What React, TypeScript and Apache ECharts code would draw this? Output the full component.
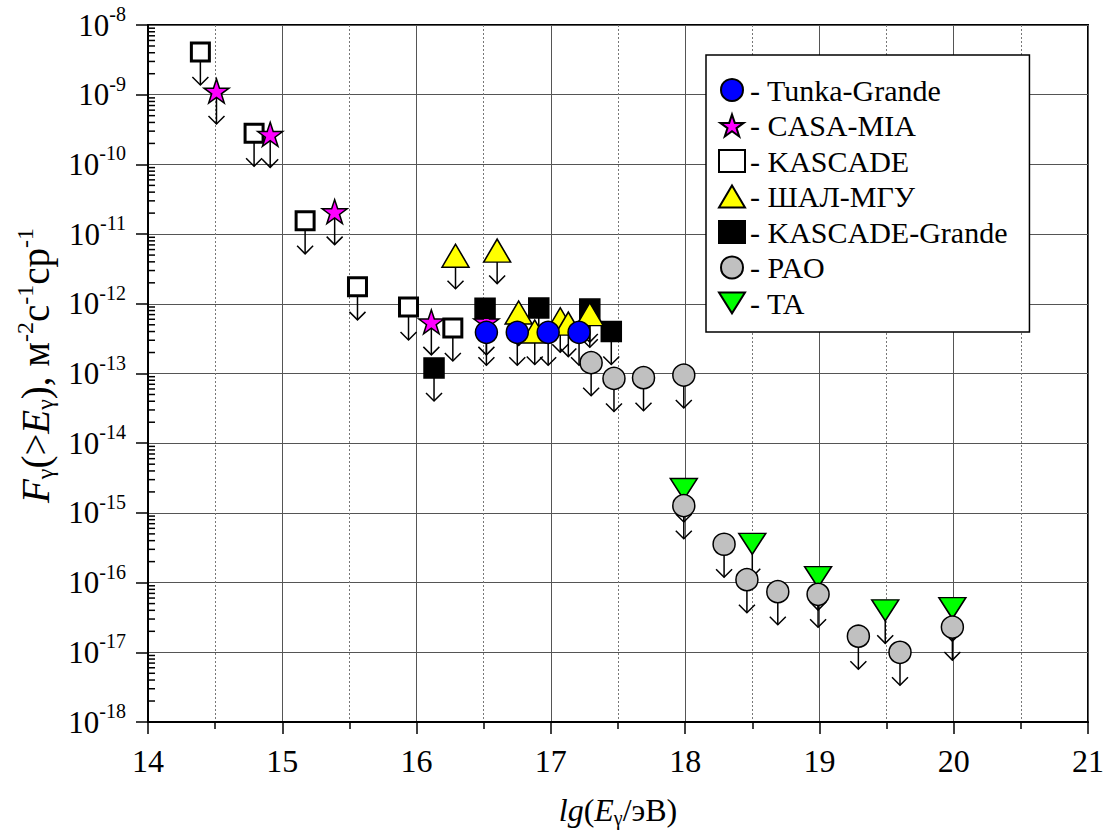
import React, { useEffect, useRef } from 'react';
import * as echarts from 'echarts';

// ---- Data (lg E, flux upper limit in m^-2 s^-1 sr^-1) ----
const tunkaX = [16.52, 16.75, 16.98, 17.21];
const tunkaY = [3.9e-13, 3.9e-13, 3.9e-13, 3.9e-13];

const casaX = [14.51, 14.91, 15.39, 16.11, 16.52];
const casaY = [1.13e-9, 2.7e-10, 2.1e-11, 5.5e-13, 5.5e-13];

const kascadeX = [14.39, 14.79, 15.17, 15.56, 15.94, 16.27];
const kascadeY = [4.1e-9, 2.8e-10, 1.55e-11, 1.75e-12, 9.0e-13, 4.5e-13];

const shalX = [16.29, 16.6, 16.76, 16.88, 17.07, 17.13, 17.29];
const shalY = [4.9e-12, 5.8e-12, 7.5e-13, 4.0e-13, 6.0e-13, 5.2e-13, 7.1e-13];

const kgX = [16.13, 16.51, 16.91, 17.29, 17.45];
const kgY = [1.2e-13, 8.6e-13, 8.7e-13, 8.4e-13, 4.0e-13];

const paoX = [17.3, 17.47, 17.69, 17.99, 17.99, 18.29, 18.46, 18.69, 18.99, 19.29, 19.6, 19.99];
const paoY = [1.43e-13, 8.5e-14, 8.7e-14, 9.5e-14, 1.27e-15, 3.55e-16, 1.1e-16, 7.4e-17, 6.8e-17, 1.7e-17, 1.0e-17, 2.3e-17];

const taX = [17.99, 18.5, 18.99, 19.49, 19.99];
const taY = [2.2e-15, 3.6e-16, 1.2e-16, 4.0e-17, 4.3e-17];

const xTicks = [14, 15, 16, 17, 18, 19, 20, 21];
const yDecades = [-18, -17, -16, -15, -14, -13, -12, -11, -10, -9, -8];
const legendNames = ['Tunka-Grande', 'CASA-MIA', 'KASCADE', 'ШАЛ-МГУ', 'KASCADE-Grande', 'PAO', 'TA'];

const FONT = '"Liberation Serif", serif';

const STAR = 'path://M50,0 L61.8,35.4 L99,35.4 L69,57.3 L80.4,92.7 L50,70.8 L19.6,92.7 L31,57.3 L1,35.4 L38.2,35.4 Z';
const TRI_DOWN = 'path://M0,0 L30,0 L15,24 Z';

function pts(xs: number[], ys: number[]) {
  return xs.map((x, i) => [x, Math.log10(ys[i])]);
}

export default function App() {
  const ref = useRef<HTMLDivElement>(null);
  useEffect(() => {
    const chart = echarts.init(ref.current as HTMLDivElement, null, { renderer: 'svg' });

    const groups: [number[], number[]][] = [
      [kascadeX, kascadeY], [casaX, casaY], [kgX, kgY], [shalX, shalY],
      [tunkaX, tunkaY], [taX, taY], [paoX, paoY],
    ];
    const allPts: number[][] = [];
    groups.forEach(([xs, ys]) => pts(xs, ys).forEach((p) => allPts.push(p)));

    // log minor tick positions (2..9 within each decade), placed on the left axis
    const minorTicks: number[][] = [];
    for (let i = 0; i < yDecades.length - 1; i++) {
      for (let k = 2; k <= 9; k++) minorTicks.push([xTicks[0], yDecades[i] + Math.log10(k)]);
    }

    const common = { borderColor: '#000', borderWidth: 1.5, opacity: 1 };

    const option: any = {
      animation: false,
      backgroundColor: '#fff',
      textStyle: { fontFamily: FONT },
      grid: { left: 148, right: 16, top: 25, bottom: 113, show: true, borderColor: '#000', borderWidth: 2 },
      legend: {
        orient: 'vertical', left: 706, top: 55,
        data: legendNames,
        formatter: (n: string) => '{t|- ' + n + '}',
        itemWidth: 26, itemHeight: 22, itemGap: 5.5,
        padding: [20, 22, 14, 12],
        backgroundColor: '#fff', borderColor: '#000', borderWidth: 1.5,
        textStyle: {
          fontFamily: FONT, fontSize: 30, color: '#000', lineHeight: 29,
          rich: { t: { fontFamily: FONT, fontSize: 30, color: '#000', lineHeight: 29 } },
        },
        selectedMode: false,
      },
      xAxis: {
        type: 'value', min: xTicks[0], max: xTicks[xTicks.length - 1], interval: 1,
        name: '{i|lg}{n|(}{i|E}{sub|γ}{n|/эВ)}',
        nameLocation: 'middle', nameGap: 70,
        nameTextStyle: {
          rich: {
            i: { fontFamily: FONT, fontStyle: 'italic', fontSize: 32, color: '#000', lineHeight: 36 },
            n: { fontFamily: FONT, fontSize: 32, color: '#000', lineHeight: 36 },
            sub: { fontFamily: FONT, fontSize: 20, color: '#000', lineHeight: 20, verticalAlign: 'bottom' },
          },
        },
        axisLine: { show: true, lineStyle: { color: '#000', width: 2 } },
        axisTick: { show: true, length: 12, lineStyle: { color: '#000', width: 1.5 } },
        minorTick: { show: true, splitNumber: 2, length: 7, lineStyle: { color: '#000', width: 1.5 } },
        splitLine: { show: true, lineStyle: { color: '#555', width: 1 } },
        minorSplitLine: { show: true, lineStyle: { color: '#777', width: 1, type: [2, 2] } },
        axisLabel: {
          margin: 22,
          formatter: (v: number) => '{a|' + v + '}',
          rich: { a: { fontFamily: FONT, fontSize: 32, color: '#000', lineHeight: 34 } },
        },
      },
      yAxis: {
        type: 'value', min: yDecades[0], max: yDecades[yDecades.length - 1], interval: 1,
        name: '{i|F}{sub|γ}{n|(>}{i|E}{sub|γ}{n|), м}{sup|-2}{n|с}{sup|-1}{n|ср}{sup|-1}',
        nameLocation: 'middle', nameRotate: 90, nameGap: 90,
        nameTextStyle: {
          padding: [0, 0, 0, 16],
          rich: {
            i: { fontFamily: FONT, fontStyle: 'italic', fontSize: 39, color: '#000', lineHeight: 44 },
            n: { fontFamily: FONT, fontSize: 39, color: '#000', lineHeight: 44 },
            sub: { fontFamily: FONT, fontSize: 24, color: '#000', lineHeight: 24, verticalAlign: 'bottom' },
            sup: { fontFamily: FONT, fontSize: 24, color: '#000', lineHeight: 24, verticalAlign: 'top' },
          },
        },
        axisLine: { show: true, lineStyle: { color: '#000', width: 2 } },
        axisTick: { show: true, length: 12, lineStyle: { color: '#000', width: 1.5 } },
        splitLine: { show: true, lineStyle: { color: '#555', width: 1 } },
        axisLabel: {
          margin: 22,
          formatter: (v: number) => '{b|10}{s|' + Math.round(v) + '}',
          rich: {
            b: { fontFamily: FONT, fontSize: 31, color: '#000', lineHeight: 42 },
            s: { fontFamily: FONT, fontSize: 20, color: '#000', lineHeight: 20, verticalAlign: 'top' },
          },
        },
      },
      series: [
        {
          type: 'custom', name: 'minorTicks', silent: true, z: 5, clip: false,
          data: minorTicks,
          encode: { x: 0, y: 1 },
          renderItem: (_params: any, api: any) => {
            const p = api.coord([api.value(0), api.value(1)]);
            return { type: 'line', shape: { x1: p[0], y1: p[1], x2: p[0] + 7, y2: p[1] }, style: { stroke: '#000', lineWidth: 1.5 } };
          },
        },
        {
          type: 'custom', name: 'arrows', silent: true, z: 1,
          data: allPts,
          encode: { x: 0, y: 1 },
          renderItem: (_params: any, api: any) => {
            const p = api.coord([api.value(0), api.value(1)]);
            const L = 33, hw = 8, hh = 8;
            return {
              type: 'group',
              children: [
                { type: 'line', shape: { x1: p[0], y1: p[1], x2: p[0], y2: p[1] + L }, style: { stroke: '#000', lineWidth: 1.5 } },
                {
                  type: 'polyline',
                  shape: { points: [[p[0] - hw, p[1] + L - hh], [p[0], p[1] + L], [p[0] + hw, p[1] + L - hh]] },
                  style: { stroke: '#000', lineWidth: 1.5, fill: null },
                },
              ],
            };
          },
        },
        { type: 'scatter', name: 'KASCADE', data: pts(kascadeX, kascadeY), symbol: 'rect', symbolSize: 18, itemStyle: { color: '#fff', ...common, borderWidth: 3 } },
        { type: 'scatter', name: 'CASA-MIA', data: pts(casaX, casaY), symbol: STAR, symbolSize: [25, 24], itemStyle: { color: '#ff00ff', ...common } },
        { type: 'scatter', name: 'KASCADE-Grande', data: pts(kgX, kgY), symbol: 'rect', symbolSize: 20, itemStyle: { color: '#000', ...common } },
        { type: 'scatter', name: 'ШАЛ-МГУ', data: pts(shalX, shalY), symbol: 'triangle', symbolSize: [27, 23], itemStyle: { color: '#ffff00', ...common } },
        { type: 'scatter', name: 'Tunka-Grande', data: pts(tunkaX, tunkaY), symbol: 'circle', symbolSize: 22, itemStyle: { color: '#0000ff', ...common } },
        { type: 'scatter', name: 'TA', data: pts(taX, taY), symbol: TRI_DOWN, symbolSize: [27, 21], itemStyle: { color: '#00ff00', ...common } },
        { type: 'scatter', name: 'PAO', data: pts(paoX, paoY), symbol: 'circle', symbolSize: 22, itemStyle: { color: '#c0c0c0', ...common } },
      ],
    };

    chart.setOption(option);
    return () => chart.dispose();
  }, []);

  return (
    <div
      ref={ref}
      style={{ position: 'fixed', left: 0, top: 0, width: 1107, height: 835, background: '#fff' }}
    />
  );
}
